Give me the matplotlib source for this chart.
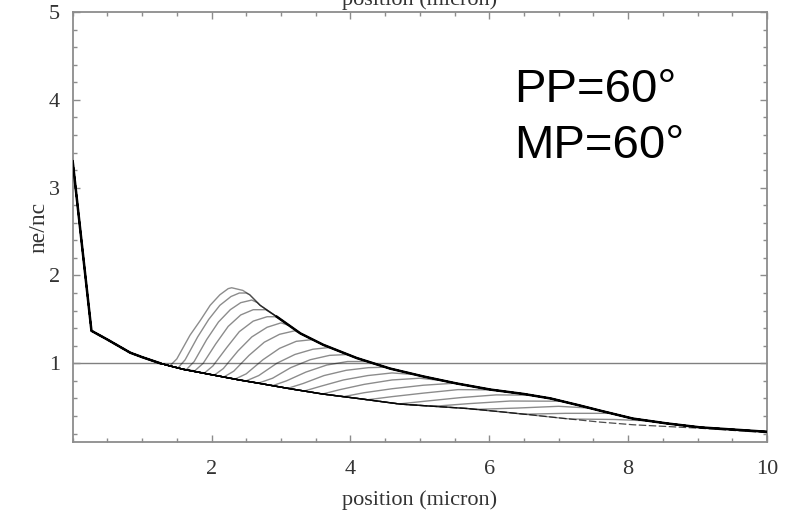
import matplotlib
matplotlib.use('Agg')
import matplotlib.pyplot as plt
from matplotlib.ticker import MultipleLocator

# lower envelope: initial density profile
base_x = [0.00, 0.27, 0.50, 0.83, 1.00, 1.26, 1.40, 1.60, 2.00, 2.40, 2.70, 3.13,
          3.60, 4.10, 4.72, 5.20, 5.68, 6.20, 6.63, 7.10, 7.60, 8.07, 8.56, 9.04,
          9.52, 10.0]
base_y = [3.30, 1.37, 1.27, 1.12, 1.07, 1.00, 0.97, 0.93, 0.87, 0.81, 0.77, 0.71,
          0.65, 0.60, 0.535, 0.51, 0.485, 0.445, 0.41, 0.37, 0.33, 0.30, 0.28, 0.26,
          0.235, 0.21]

# upper envelope: right side of the final (steepened) profile
env_x = [2.29, 2.45, 2.55, 2.70, 2.94, 3.28, 3.61, 4.09, 4.57, 5.05, 5.53, 6.02,
         6.50, 6.88, 7.30, 7.60, 8.07, 8.56, 9.04, 9.52, 10.0]
env_y = [1.86, 1.83, 1.78, 1.66, 1.53, 1.34, 1.21, 1.06, 0.94, 0.85, 0.77, 0.70,
         0.65, 0.60, 0.52, 0.46, 0.37, 0.315, 0.27, 0.245, 0.22]

# each snapshot: the part that leaves the initial profile and joins the envelope
snap_x = [
    [1.40, 1.50, 1.69, 1.84, 1.98, 2.12, 2.24, 2.29],
    [1.52, 1.62, 1.80, 1.96, 2.12, 2.28, 2.40, 2.50],
    [1.64, 1.75, 1.93, 2.10, 2.27, 2.42, 2.58, 2.66],
    [1.76, 1.88, 2.06, 2.24, 2.42, 2.60, 2.78, 2.82],
    [1.90, 2.02, 2.22, 2.40, 2.60, 2.80, 2.94],
    [2.04, 2.17, 2.38, 2.58, 2.80, 3.00, 3.12],
    [2.18, 2.32, 2.54, 2.76, 2.98, 3.20, 3.28],
    [2.34, 2.50, 2.74, 2.98, 3.22, 3.46],
    [2.50, 2.68, 2.94, 3.20, 3.46, 3.70],
    [2.68, 2.88, 3.14, 3.42, 3.70, 3.96],
    [2.88, 3.08, 3.36, 3.66, 3.96, 4.24],
    [3.10, 3.32, 3.62, 3.94, 4.26, 4.50],
    [3.34, 3.58, 3.90, 4.25, 4.60, 4.95],
    [3.60, 3.85, 4.20, 4.60, 5.00, 5.35],
    [3.90, 4.20, 4.60, 5.05, 5.50],
    [4.25, 4.60, 5.05, 5.55, 6.05],
    [4.70, 5.10, 5.60, 6.10, 6.60],
    [5.20, 5.70, 6.30, 7.05],
    [5.80, 6.40, 7.00, 7.45],
    [6.50, 7.10, 7.75],
    [7.20, 7.80, 8.30],
]
snap_y = [
    [0.97, 1.05, 1.32, 1.49, 1.66, 1.78, 1.85, 1.86],
    [0.95, 1.04, 1.30, 1.50, 1.66, 1.76, 1.80, 1.80],
    [0.93, 1.02, 1.27, 1.47, 1.61, 1.69, 1.72, 1.69],
    [0.915, 1.00, 1.22, 1.42, 1.55, 1.61, 1.61, 1.59],
    [0.89, 0.97, 1.18, 1.36, 1.48, 1.53, 1.53],
    [0.865, 0.94, 1.14, 1.30, 1.41, 1.46, 1.43],
    [0.845, 0.91, 1.09, 1.24, 1.33, 1.37, 1.34],
    [0.82, 0.88, 1.04, 1.17, 1.25, 1.27],
    [0.80, 0.86, 1.00, 1.10, 1.16, 1.18],
    [0.775, 0.83, 0.95, 1.04, 1.09, 1.10],
    [0.745, 0.80, 0.90, 0.98, 1.02, 1.02],
    [0.715, 0.77, 0.86, 0.92, 0.95, 0.955],
    [0.685, 0.74, 0.81, 0.86, 0.89, 0.87],
    [0.65, 0.70, 0.76, 0.81, 0.83, 0.80],
    [0.62, 0.665, 0.71, 0.75, 0.773],
    [0.585, 0.62, 0.66, 0.70, 0.697],
    [0.537, 0.57, 0.61, 0.64, 0.637],
    [0.51, 0.54, 0.57, 0.568],
    [0.475, 0.49, 0.51, 0.49],
    [0.42, 0.43, 0.43],
    [0.365, 0.36, 0.344],
]

x_ticks = [2, 4, 6, 8, 10]
y_ticks = [1, 2, 3, 4, 5]


def snapshot(sx, sy):
    xs = [x for x in base_x if x < sx[0]] + sx + [x for x in env_x if x > sx[-1]]
    ys = ([y for x, y in zip(base_x, base_y) if x < sx[0]] + sy +
          [y for x, y in zip(env_x, env_y) if x > sx[-1]])
    return xs, ys


def main():
    fig = plt.figure(figsize=(7.85, 5.13), dpi=100)
    ax = fig.add_axes([0.0926, 0.1378, 0.8844, 0.8388])
    frame = '0.55'

    ax.axhline(1.0, color='0.5', lw=1.0, zorder=1)

    for sx, sy in zip(snap_x, snap_y):
        xs, ys = snapshot(sx, sy)
        ax.plot(xs, ys, color='k', alpha=0.45, lw=1.0, zorder=2)

    # dark overlap of the many snapshots
    left = [(x, y) for x, y in zip(base_x, base_y) if x <= 1.26]
    ax.plot([p[0] for p in left], [p[1] for p in left], color='k', lw=1.8, zorder=3)
    right = [(x, y) for x, y in zip(env_x, env_y) if x >= 2.94]
    ax.plot([p[0] for p in right], [p[1] for p in right], color='k', lw=1.8, zorder=3)
    ax.plot(base_x, base_y, color='k', lw=0.9, dashes=(6, 2), alpha=0.7, zorder=3)

    ax.set_xlim(0, 10)
    ax.set_ylim(0.1, 5.0)
    ax.set_xticks(x_ticks)
    ax.set_yticks(y_ticks)
    ax.xaxis.set_minor_locator(MultipleLocator(0.5))
    ax.yaxis.set_minor_locator(MultipleLocator(0.2))
    ax.tick_params(which='both', direction='in', top=True, right=True,
                   color=frame, width=1.0, labelcolor='0.2')
    ax.tick_params(which='major', length=5)
    ax.tick_params(which='minor', length=3)
    ax.tick_params(axis='x', which='major', pad=13)
    ax.tick_params(axis='y', which='major', pad=9)
    for lab in ax.get_xticklabels() + ax.get_yticklabels():
        lab.set_family('Liberation Serif')
        lab.set_fontsize(16)
    for s in ax.spines.values():
        s.set_color(frame)
        s.set_linewidth(1.3)

    ax.set_xlabel('position (micron)', family='Liberation Serif', fontsize=16,
                  color='0.2', labelpad=8)
    ax.set_ylabel('ne/nc', family='Liberation Serif', fontsize=17,
                  color='0.2', labelpad=0)
    fig.text(0.535, 1 - 5 / 513, 'position (micron)', family='Liberation Serif',
             fontsize=16, color='0.2', ha='center', va='baseline')

    fig.text(514 / 785, 1 - 101.7 / 513, 'PP=60°', family='Liberation Sans',
             fontsize=34, color='k', va='baseline')
    fig.text(514 / 785, 1 - 158.3 / 513, 'MP=60°', family='Liberation Sans',
             fontsize=34, color='k', va='baseline')

    fig.savefig('out.png', dpi=100)


if __name__ == '__main__':
    main()
